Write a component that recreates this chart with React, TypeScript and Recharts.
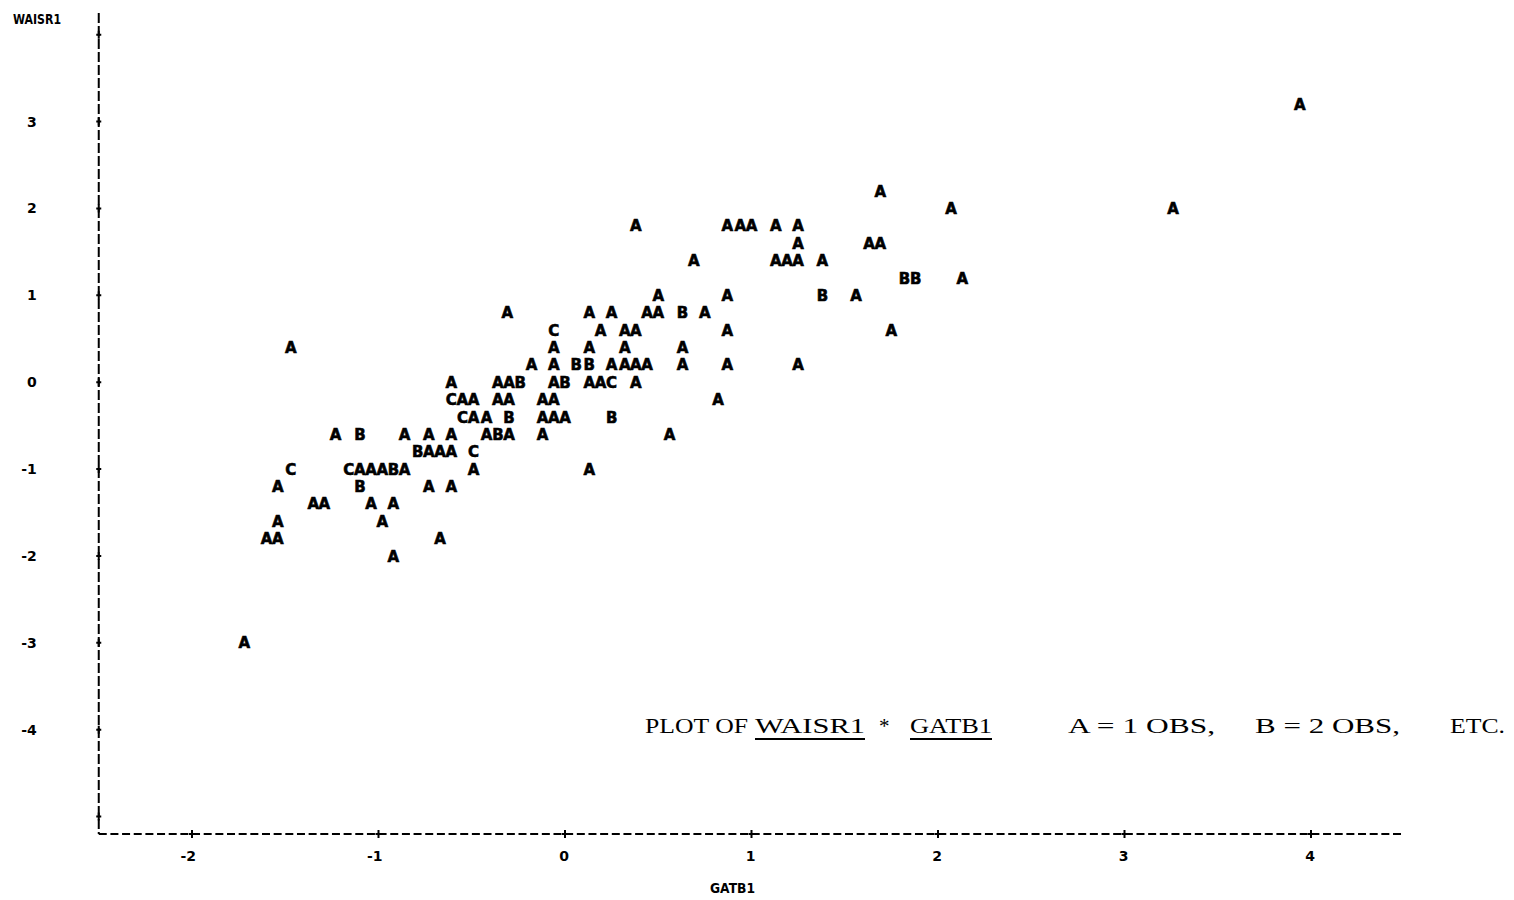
import { ScatterChart, Scatter, XAxis, YAxis } from "recharts";

// printer-plot rows: WAISR1 level of each row, GATB1 positions in it, and the plot letter of each
const rowLevels = [3.2, 2.2, 2.0, 1.8, 1.6, 1.4, 1.2, 1.0, 0.8, 0.6, 0.4, 0.2, 0.0, -0.2, -0.4, -0.6, -0.8, -1.0, -1.2, -1.4, -1.6, -1.8, -2.0, -3.0];
const rowGatb = [
  [3.94],
  [1.69],
  [2.07, 3.26],
  [0.38, 0.87, 0.94, 1.0, 1.13, 1.25],
  [1.25, 1.63, 1.69],
  [0.69, 1.13, 1.19, 1.25, 1.38],
  [1.82, 1.88, 2.13],
  [0.5, 0.87, 1.38, 1.56],
  [-0.31, 0.13, 0.25, 0.44, 0.5, 0.63, 0.75],
  [-0.06, 0.19, 0.32, 0.38, 0.87, 1.75],
  [-1.47, -0.06, 0.13, 0.32, 0.63],
  [-0.18, -0.06, 0.06, 0.13, 0.25, 0.32, 0.38, 0.44, 0.63, 0.87, 1.25],
  [-0.61, -0.36, -0.3, -0.24, -0.06, 0.0, 0.13, 0.19, 0.25, 0.38],
  [-0.61, -0.55, -0.49, -0.36, -0.3, -0.12, -0.06, 0.82],
  [-0.55, -0.49, -0.42, -0.3, -0.12, -0.06, 0.0, 0.25],
  [-1.23, -1.1, -0.86, -0.73, -0.61, -0.42, -0.36, -0.3, -0.12, 0.56],
  [-0.79, -0.73, -0.67, -0.61, -0.49],
  [-1.47, -1.16, -1.1, -1.04, -0.98, -0.92, -0.86, -0.49, 0.13],
  [-1.54, -1.1, -0.73, -0.61],
  [-1.35, -1.29, -1.04, -0.92],
  [-1.54, -0.98],
  [-1.6, -1.54, -0.67],
  [-0.92],
  [-1.72],
];
const rowSymbols = [
  "A", "A", "AA", "AAAAAA", "AAA", "AAAAA", "BBA", "AABA", "AAAAABA", "CAAAAA", "AAAAA",
  "AABBAAAAAAA", "AAABABAACA", "CAAAAAAA", "CAABAAAB", "ABAAAABAAA", "BAAAC", "CCAAABAAA",
  "ABAA", "AAAA", "AA", "AAA", "A", "A",
];

const xTicks = [-2, -1, 0, 1, 2, 3, 4];
const yTicks = [-5, -4, -3, -2, -1, 0, 1, 2, 3, 4];

const points = rowLevels.flatMap((level, r) =>
  rowGatb[r].map((g, i) => ({ gatb: g, waisr: level, sym: rowSymbols[r][i] }))
);

const MONO = "'DejaVu Sans', sans-serif";

const Letter = (props: any) => {
  const { cx, cy, payload } = props;
  return (
    <text
      x={cx}
      y={cy}
      dy="0.37em"
      textAnchor="middle"
      fontFamily={MONO}
      fontWeight="bold"
      fontSize={15}
      fill="#000"
      stroke="#000"
      strokeWidth={0.6}
    >
      {payload.sym}
    </text>
  );
};

const XTick = (props: any) => {
  const { x, y, payload } = props;
  return (
    <g>
      <path d={`M${x - 3},${y}H${x + 3}M${x},${y - 4}V${y + 4}`} stroke="#000" strokeWidth={2} />
      <text x={x + 4} y={y + 27} textAnchor="end" fontFamily={MONO} fontWeight="bold" fontSize={14} fill="#000">
        {payload.value}
      </text>
    </g>
  );
};

const YTick = (props: any) => {
  const { x, y, payload } = props;
  const v = payload.value;
  return (
    <g>
      <path d={`M${x - 2.5},${y}H${x + 2.5}M${x},${y - 4}V${y + 4}`} stroke="#000" strokeWidth={2} />
      {v >= -4 && v <= 3 && (
        <text x={x - 62} y={y + 5} textAnchor="end" fontFamily={MONO} fontWeight="bold" fontSize={14} fill="#000">
          {v}
        </text>
      )}
    </g>
  );
};

export default function App() {
  return (
    <div style={{ position: "absolute", left: 0, top: 0, width: 1514, height: 900, background: "#fff" }}>
      <ScatterChart width={1514} height={900} margin={{ top: 13, right: 109.75, left: 8.75, bottom: 16 }}>
        <XAxis
          type="number"
          dataKey="gatb"
          domain={[-2.5, 4.5]}
          ticks={xTicks}
          height={50}
          tickSize={0}
          tickMargin={0}
          tickLine={false}
          tick={<XTick />}
          axisLine={{ stroke: "#000", strokeWidth: 2, strokeDasharray: "8 3.66" }}
          allowDataOverflow
        />
        <YAxis
          type="number"
          dataKey="waisr"
          domain={[-5.2, 4.25]}
          ticks={yTicks}
          width={90}
          tickSize={0}
          tickMargin={0}
          tickLine={false}
          tick={<YTick />}
          axisLine={{ stroke: "#000", strokeWidth: 2, strokeDasharray: "10 3" }}
          allowDataOverflow
        />
        <Scatter data={points} shape={<Letter />} isAnimationActive={false} />
      </ScatterChart>
      <svg width={1514} height={900} style={{ position: "absolute", left: 0, top: 0, pointerEvents: "none" }}>
        <g fontFamily={MONO} fontWeight="bold" fontSize={14} fill="#000">
          <text x={13} y={24} textLength={48} lengthAdjust="spacingAndGlyphs">WAISR1</text>
          <text x={710} y={893} textLength={45} lengthAdjust="spacingAndGlyphs">GATB1</text>
        </g>
        <g fontFamily="'Liberation Serif', serif" fontSize={21} fill="#000">
          <text x={645} y={733} textLength={103} lengthAdjust="spacingAndGlyphs">PLOT OF</text>
          <text x={755} y={733} textLength={110} lengthAdjust="spacingAndGlyphs">WAISR1</text>
          <text x={879} y={733}>*</text>
          <text x={910} y={733} textLength={82} lengthAdjust="spacingAndGlyphs">GATB1</text>
          <text x={1068} y={733} textLength={147} lengthAdjust="spacingAndGlyphs">A = 1 OBS,</text>
          <text x={1255} y={733} textLength={145} lengthAdjust="spacingAndGlyphs">B = 2 OBS,</text>
          <text x={1450} y={733} textLength={55} lengthAdjust="spacingAndGlyphs">ETC.</text>
          <path d="M755,739H865M910,739H992" stroke="#000" strokeWidth={2} />
        </g>
      </svg>
    </div>
  );
}
